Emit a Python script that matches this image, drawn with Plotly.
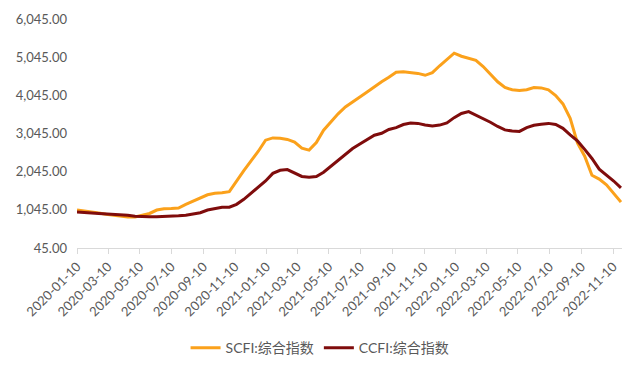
import plotly.graph_objects as go

dates = [
    "2020-01-10", "2020-01-24", "2020-02-07", "2020-02-21", "2020-03-06", "2020-03-20",
    "2020-04-03", "2020-04-17", "2020-05-01", "2020-05-15", "2020-05-29", "2020-06-12",
    "2020-06-26", "2020-07-10", "2020-07-24", "2020-08-07", "2020-08-21", "2020-09-04",
    "2020-09-18", "2020-10-02", "2020-10-16", "2020-10-30", "2020-11-13", "2020-11-27",
    "2020-12-11", "2020-12-25", "2021-01-08", "2021-01-22", "2021-02-05", "2021-02-19",
    "2021-03-05", "2021-03-19", "2021-04-02", "2021-04-16", "2021-04-30", "2021-05-14",
    "2021-05-28", "2021-06-11", "2021-06-25", "2021-07-09", "2021-07-23", "2021-08-06",
    "2021-08-20", "2021-09-03", "2021-09-17", "2021-10-01", "2021-10-15", "2021-10-29",
    "2021-11-12", "2021-11-26", "2021-12-10", "2021-12-24", "2022-01-07", "2022-01-21",
    "2022-02-04", "2022-02-18", "2022-03-04", "2022-03-18", "2022-04-01", "2022-04-15",
    "2022-04-29", "2022-05-13", "2022-05-27", "2022-06-10", "2022-06-24", "2022-07-08",
    "2022-07-22", "2022-08-05", "2022-08-19", "2022-09-02", "2022-09-16", "2022-09-30",
    "2022-10-14", "2022-10-28", "2022-11-11", "2022-11-25",
]

scfi = [
    1040, 1020, 990, 960, 930, 905, 880, 855, 860, 900, 950, 1040,
    1075, 1080, 1090, 1190, 1280, 1350, 1440, 1480, 1490, 1520, 1810, 2070,
    2330, 2580, 2870, 2930, 2920, 2890, 2820, 2660, 2610, 2810, 3130, 3350,
    3560, 3740, 3860, 4000, 4130, 4270, 4400, 4520, 4650, 4665, 4650, 4620,
    4570, 4640, 4820, 4980, 5150, 5070, 5020, 4960, 4800, 4610, 4400, 4250,
    4190, 4170, 4190, 4250, 4240, 4190, 4040, 3820, 3440, 2800, 2450, 1950,
    1850, 1700, 1470, 1250,
]

ccfi = [
    990, 985, 965, 950, 940, 925, 915, 905, 880, 865, 862, 862,
    865, 875, 890, 905, 935, 970, 1040, 1080, 1110, 1115, 1190, 1320,
    1480, 1640, 1800, 2000, 2080, 2100, 2000, 1920, 1900, 1920, 2030, 2190,
    2340, 2500, 2650, 2770, 2880, 3000, 3050, 3150, 3200, 3280, 3320, 3310,
    3270, 3240, 3265, 3320, 3460, 3570, 3620, 3530, 3420, 3340, 3230, 3140,
    3110, 3100, 3200, 3260, 3290, 3310, 3280, 3180, 3010, 2850, 2630, 2390,
    2110, 1960, 1800, 1620,
]

tick_dates = [
    "2020-01-10", "2020-03-10", "2020-05-10", "2020-07-10", "2020-09-10", "2020-11-10",
    "2021-01-10", "2021-03-10", "2021-05-10", "2021-07-10", "2021-09-10", "2021-11-10",
    "2022-01-10", "2022-03-10", "2022-05-10", "2022-07-10", "2022-09-10", "2022-11-10",
]
y_ticks = [45, 1045, 2045, 3045, 4045, 5045, 6045]
series_names = ["SCFI:综合指数", "CCFI:综合指数"]

fig = go.Figure()
fig.add_trace(go.Scatter(x=dates, y=scfi, mode="lines", name=series_names[0],
                         line=dict(color="#FBA11B", width=3)))
fig.add_trace(go.Scatter(x=dates, y=ccfi, mode="lines", name=series_names[1],
                         line=dict(color="#7F0C0C", width=3)))

# page body has an 8px default margin; figure sized/margined to compensate
fig.update_layout(
    width=624, height=357,
    margin=dict(l=69, r=10, t=11, b=117, autoexpand=False),
    paper_bgcolor="white", plot_bgcolor="white",
    font=dict(family="Lato, Noto Sans CJK SC, sans-serif", size=13, color="#595959"),
    showlegend=True,
    legend=dict(orientation="h", x=0.446, xanchor="center", y=-0.437, yanchor="middle",
                font=dict(family="Lato, Noto Sans CJK SC, sans-serif", size=14, color="#595959"),
                itemwidth=30),
)
fig.update_xaxes(
    type="date", range=["2020-01-10", "2022-11-27"],
    tickvals=tick_dates, ticktext=tick_dates, tickangle=-45,
    showgrid=False, zeroline=False,
    showline=True, linecolor="#D9D9D9", linewidth=1,
    ticks="outside", tickcolor="#D9D9D9", ticklen=5,
    tickfont=dict(size=13, color="#595959"),
)
fig.update_yaxes(
    range=[45, 6045], tickvals=y_ticks, tickformat=",.2f",
    showgrid=False, zeroline=False, showline=False,
    ticks="", ticklabelstandoff=9, tickfont=dict(size=13, color="#595959"),
)

fig.write_html("out.html")
